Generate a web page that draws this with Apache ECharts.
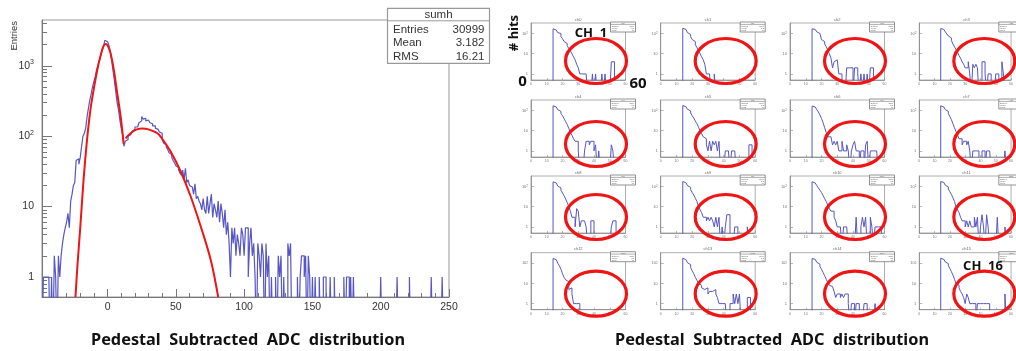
<!DOCTYPE html>
<html>
<head>
<meta charset="utf-8">
<script src="https://cdn.jsdelivr.net/npm/echarts@6/dist/echarts.min.js"></script>
<style>
  html, body { margin: 0; padding: 0; background: #fff; }
  #main { width: 1016px; height: 351px; }
</style>
</head>
<body>
<div id="main"></div>
<script>
// summed histogram, 1 ADC per bin, first bin starts at adcStart
const adcStart = -48;
const adcCounts = [
  0, 1, 1, 1, 1, 1, 0, 1, 0, 2,              // -48 .. -39
  1, 0, 2, 1, 2, 3, 4, 5, 6, 8,              // -38 .. -29
  5, 12, 15, 20, 22, 45, 48, 40, 50, 72,     // -28 .. -19
  100, 110, 130, 190, 250, 325, 400, 505, 600, 700,     // -18 .. -9
  880, 1020, 1200, 1400, 1650, 1850, 2300, 2200, 2100, 1950, // -8 .. 1
  1600, 1200, 850, 620, 430, 300, 240, 170, 130, 105,   // 2 .. 11
  72, 85, 90, 100, 105, 112, 118, 125, 135, 135,        // 12 .. 21
  140, 155, 165, 190, 175, 180, 165, 170, 160, 155,     // 22 .. 31
  150, 140, 140, 130, 125, 125, 115, 110, 90, 80,       // 32 .. 41
  75, 70, 65, 58, 55, 50, 45, 42, 38, 36,    // 42 .. 51
  33, 30, 28, 33, 24, 35, 22, 24, 20, 19,    // 52 .. 61
  18, 15, 21, 13, 14, 12, 11, 9, 13, 9,      // 62 .. 71
  8, 14, 8, 11, 15, 7, 11, 9, 7, 12,         // 72 .. 81
  6, 11, 8, 5, 9, 4, 6, 3, 1, 5,             // 82 .. 91
  3, 5, 2, 4, 3, 2, 5, 4, 2, 5,              // 92 .. 101
  5, 1, 3, 5, 2, 3, 1, 0, 3, 2,              // 102 .. 111
  1, 3, 2, 0, 3, 1, 2, 0, 1, 0,              // 112 .. 121
  0, 1, 0, 2, 1, 2, 0, 1, 0, 0,              // 122 .. 131
  3, 2, 3, 0, 0, 0, 0, 1, 0, 1,              // 132 .. 141
  2, 2, 1, 2, 0, 2, 1, 0, 1, 0,              // 142 .. 151
  1, 0, 0, 1, 0, 0, 1, 1, 0, 0,              // 152 .. 161
  0, 1, 0, 0, 1, 0, 0, 0, 0, 0,              // 162 .. 171
  0, 1, 0, 1, 1, 0, 1, 0, 1, 0,              // 172 .. 181
  0, 0, 0, 0, 0, 0, 0, 0, 0, 0,              // 182 .. 191
  0, 0, 0, 0, 0, 0, 0, 0, 1, 0,              // 192 .. 201
  0, 0, 0, 0, 0, 0, 0, 0, 0, 0,              // 202 .. 211
  1, 0, 0, 0, 0, 0, 0, 0, 0, 1,              // 212 .. 221
  0, 0, 0, 0, 0, 0, 0, 0, 0, 0,              // 222 .. 231
  0, 0, 0, 0, 0, 1, 0, 0, 0, 0,              // 232 .. 241
  0, 0, 0, 1, 0, 0, 0, 0                     // 242 .. 249
];

// red fit curves
const pedFitX = [-23.5, -22, -20, -17.5, -15, -12.5, -10, -7.5, -5, -3, -1.5, 0, 2.2, 4.6, 7.1, 9.6, 11.8];
const pedFitY = [0.52, 1.5, 5, 25, 90, 240, 480, 880, 1420, 1900, 2040, 1950, 1510, 870, 405, 190, 78];
const sigFitX = [13.2, 16.9, 21, 25.5, 30, 36.5, 40, 46.3, 53.7, 61, 68.4, 75.7, 81];
const sigFitY = [93, 110, 124, 129, 125, 110, 92, 60, 31, 13.7, 5.1, 1.7, 0.52];

const statsRows = [['Entries', '30999'], ['Mean', '3.182'], ['RMS', '16.21']];
const xMajorTicks = [0, 50, 100, 150, 200, 250];
const xMinorTicks = [-40, -30, -20, -10, 10, 20, 30, 40, 60, 70, 80, 90, 110, 120, 130, 140,
  160, 170, 180, 190, 210, 220, 230, 240];
const yMajorTicks = [1, 10, 100, 1000];
const yMinorTicks = [0.6, 0.7, 0.8, 0.9, 2, 3, 4, 5, 6, 7, 8, 9, 20, 30, 40, 50, 60, 70, 80, 90,
  200, 300, 400, 500, 600, 700, 800, 900, 2000, 3000, 4000];

// per channel histograms, bins 14 .. 59
const chStart = 14;
const chCounts = [
  [170,150,140,110,100,70,55,40,32,25,18, 14,10,7,5,3,2,1,1,1,1,1, 0,0,0,1,0,1,0,0,0,1,0, 1,0,0,0,4,4,0,0,0,0,0, 0,0],
  [180,160,130,110,90,70,50,40,28,20,14, 10,7,5,3,1,1,1,0,0,1,0, 0,0,0,0,0,0,0,0,0,0,0, 0,0,0,0,0,0,0,0,0,0,0, 0,0],
  [170,160,150,120,100,80,50,40,30,22,15, 10,6,2,4,5,4,1,1,0,0,0, 2,2,2,2,0,2,2,1,0,1,0, 1,0,1,0,2,2,1,0,0,0,0, 0,0],
  [175,160,140,120,95,75,60,45,30,22,16, 12,8,6,4,3,2,2,4,1,0,3, 2,3,2,0,0,4,4,1,0,1,1, 0,0,0,1,1,0,0,4,1,0,0, 0,0],
  [170,150,130,110,90,70,55,40,28,20,13, 8,6,4,3,3,1,0,0,0,1,3, 3,2,3,3,1,2,0,1,0,0,0, 0,0,0,0,2,1,0,0,0,0,0, 0,0],
  [175,155,140,115,95,75,55,42,30,22,15, 10,7,5,4,2,1,3,1,3,2,3, 1,3,0,0,0,1,1,1,0,1,1, 1,0,0,0,0,0,0,0,0,2,2, 0,0],
  [165,150,130,110,85,60,40,25,14,8,5, 5,5,2,3,2,3,1,1,3,1,1, 2,1,0,1,2,3,1,1,0,1,1, 0,2,3,0,1,1,1,1,1,0,0, 0,0],
  [170,150,135,110,90,70,50,35,22,14,9, 6,4,4,2,3,3,2,3,1,0,1, 1,1,1,0,0,1,1,0,1,1,1, 0,0,0,0,0,0,0,0,0,1,0, 0,0],
  [170,150,130,105,85,65,48,35,24,16,10, 6,3,3,1,8,6,1,2,2,2,1, 0,0,2,2,0,0,0,0,0,0,0, 0,0,0,0,1,2,2,0,0,0,0, 0,0],
  [175,155,135,110,90,70,50,38,26,18,10, 7,5,3,3,2,3,2,3,2,1,3, 1,3,0,1,0,1,4,4,0,0,0, 1,1,0,0,0,0,0,0,1,0,0, 0,0],
  [170,150,130,110,85,65,50,36,25,18,12, 8,6,6,3,2,1,1,1,0,1,1, 1,0,0,0,0,0,3,0,0,1,3, 1,3,0,0,3,1,0,1,1,1,1, 0,0],
  [175,160,140,115,95,75,55,40,28,18,10, 7,5,3,2,2,1,2,1,2,1,1, 3,1,3,0,1,4,1,0,4,1,0, 0,0,0,0,3,0,0,0,0,1,0, 0,0],
  [170,150,130,100,75,50,30,20,15,12,5, 6,3,1,1,1,1,0,0,0,0,0, 0,0,0,0,0,0,0,0,0,0,0, 0,0,0,0,0,0,0,0,0,0,0, 0,0],
  [175,150,130,105,85,60,42,30,20,14,10, 8,6,5,4,6,3,4,4,5,5,3, 2,1,1,1,1,1,0,0,1,1,3, 1,3,1,3,0,0,0,0,2,2,0, 0,0],
  [170,155,135,110,90,70,50,35,24,16,11, 8,7,6,4,2,3,3,2,3,2,3, 3,1,0,1,1,0,1,1,0,0,0, 1,1,0,0,0,0,0,1,0,0,0, 0,0],
  [175,155,140,115,95,75,55,38,26,16,10, 8,6,4,3,2,1,3,2,1,1,1, 1,0,1,1,1,1,1,1,1,1,0, 0,0,0,0,0,0,0,0,0,3,0, 0,0]
];
const chNames = ['ch0','ch1','ch2','ch3','ch4','ch5','ch6','ch7','ch8','ch9','ch10','ch11','ch12','ch13','ch14','ch15'];
const chYTicks = [1, 10, 100];
const chXTicks = [0, 10, 20, 30, 40, 50, 60];

// layout
const mainBox = { left: 42, top: 20, width: 407, height: 277 };
const colLeft = [531, 660.7, 790, 919.3];
const rowTop = [23, 100, 176, 252.7];
const miniW = 94.5, miniH = 57;
const ellipseDy = [38, 44, 41, 41];

const rootFont = 'Liberation Sans';
const boldFont = 'Noto Sans';
const blue = '#5656c6';
const red = '#f01414';

function stepData(start, counts) {
  // zero bins are drawn down to the bottom of the frame, like ROOT does
  const pts = counts.map((c, i) => [start + i, c > 0 ? c : 0.1]);
  pts.unshift([start, 0.1]);
  pts.push([start + counts.length, 0.1]);
  return pts;
}

function powLabel(v) {
  if (v >= 1000) return '10{s|3}';
  if (v >= 100) return '10{s|2}';
  if (v >= 10) return '10';
  return '1';
}

const grids = [Object.assign({ show: true, borderColor: '#999', borderWidth: 1 }, mainBox)];
const xAxes = [
  {
    gridIndex: 0, type: 'value', min: adcStart, max: 250, position: 'bottom',
    axisLine: { onZero: false, lineStyle: { color: '#777', width: 1 } },
    splitLine: { show: false },
    axisTick: { inside: true, length: 8, customValues: xMajorTicks, lineStyle: { color: '#777' } },
    axisLabel: { customValues: xMajorTicks, margin: 5, fontSize: 10.5, color: '#333', fontFamily: rootFont }
  },
  {
    gridIndex: 0, type: 'value', min: adcStart, max: 250, position: 'bottom',
    axisLine: { show: false, onZero: false },
    splitLine: { show: false },
    axisTick: { inside: true, length: 4, customValues: xMinorTicks, lineStyle: { color: '#777' } },
    axisLabel: { show: false }
  }
];
const yAxes = [
  {
    gridIndex: 0, type: 'log', min: 0.52, max: 4470, position: 'left',
    axisLine: { onZero: false, lineStyle: { color: '#777', width: 1 } },
    splitLine: { show: false },
    axisTick: { inside: true, length: 10, customValues: yMajorTicks, lineStyle: { color: '#777' } },
    axisLabel: {
      customValues: yMajorTicks, margin: 8, fontSize: 10.5, color: '#333', fontFamily: rootFont,
      formatter: powLabel,
      rich: { s: { fontSize: 7, color: '#333', fontFamily: rootFont, verticalAlign: 'top', padding: [0, 0, 7, 0] } }
    }
  },
  {
    gridIndex: 0, type: 'log', min: 0.52, max: 4470, position: 'left',
    axisLine: { show: false, onZero: false },
    splitLine: { show: false },
    axisTick: { inside: true, length: 5, customValues: yMinorTicks, lineStyle: { color: '#777' } },
    axisLabel: { show: false }
  }
];

const series = [
  {
    type: 'line', xAxisIndex: 0, yAxisIndex: 0, step: 'end', symbol: 'none',
    data: stepData(adcStart, adcCounts),
    lineStyle: { color: blue, width: 1.2 }, z: 2
  },
  {
    type: 'line', xAxisIndex: 0, yAxisIndex: 0, smooth: 0.35, symbol: 'none',
    data: pedFitX.map((x, i) => [x, pedFitY[i]]),
    lineStyle: { color: red, width: 2 }, z: 3
  },
  {
    type: 'line', xAxisIndex: 0, yAxisIndex: 0, smooth: 0.35, symbol: 'none',
    data: sigFitX.map((x, i) => [x, sigFitY[i]]),
    lineStyle: { color: red, width: 2 }, z: 3
  }
];

const graphics = [];

// the small per channel pads
chCounts.forEach((counts, i) => {
  const row = Math.floor(i / 4), col = i % 4;
  const left = colLeft[col], top = rowTop[row];
  const g = grids.length;
  grids.push({ left: left, top: top, width: miniW, height: miniH, show: true, borderColor: '#999', borderWidth: 0.8 });
  xAxes.push({
    gridIndex: g, type: 'value', min: 0, max: 60, position: 'bottom',
    axisLine: { onZero: false, lineStyle: { color: '#888', width: 0.8 } },
    splitLine: { show: false },
    axisTick: { inside: true, length: 2, customValues: chXTicks, lineStyle: { color: '#888', width: 0.6 } },
    axisLabel: { customValues: chXTicks, margin: 2, fontSize: 3.5, color: '#777', fontFamily: rootFont }
  });
  yAxes.push({
    gridIndex: g, type: 'log', min: 0.5, max: 330, position: 'left',
    axisLine: { onZero: false, lineStyle: { color: '#888', width: 0.8 } },
    splitLine: { show: false },
    axisTick: { inside: true, length: 3, customValues: chYTicks, lineStyle: { color: '#888', width: 0.6 } },
    axisLabel: {
      customValues: chYTicks, margin: 3, fontSize: 4, color: '#777', fontFamily: rootFont,
      formatter: powLabel, rich: { s: { fontSize: 3, color: '#777', verticalAlign: 'top' } }
    }
  });
  series.push({
    type: 'line', xAxisIndex: g + 1, yAxisIndex: g + 1, step: 'end', symbol: 'none',
    data: stepData(chStart, counts),
    lineStyle: { color: blue, width: 1 }, z: 2
  });

  // title and stats box of the pad
  graphics.push({
    type: 'text', x: left + miniW / 2, y: top - 3.5, z: 10,
    style: { text: chNames[i], fontSize: 4, fill: '#666', fontFamily: rootFont, align: 'center', verticalAlign: 'middle' }
  });
  const bx = left + miniW - 15, by = top - 1;
  graphics.push({
    type: 'group', x: bx, y: by, z: 10,
    children: [
      { type: 'rect', shape: { x: 0, y: 0, width: 25, height: 10 }, style: { fill: '#fff', stroke: '#777', lineWidth: 0.8 } },
      { type: 'line', shape: { x1: 0, y1: 2.4, x2: 25, y2: 2.4 }, style: { stroke: '#777', lineWidth: 0.6 } },
      { type: 'text', x: 12.5, y: 1.3, style: { text: chNames[i], fontSize: 2.2, fill: '#666', align: 'center', verticalAlign: 'middle' } },
      { type: 'text', x: 1.2, y: 4.2, style: { text: 'Entries', fontSize: 2.2, fill: '#666', verticalAlign: 'middle' } },
      { type: 'text', x: 1.2, y: 6.3, style: { text: 'Mean', fontSize: 2.2, fill: '#666', verticalAlign: 'middle' } },
      { type: 'text', x: 1.2, y: 8.4, style: { text: 'RMS', fontSize: 2.2, fill: '#666', verticalAlign: 'middle' } },
      { type: 'text', x: 23.8, y: 4.2, style: { text: '2000', fontSize: 2.2, fill: '#666', align: 'right', verticalAlign: 'middle' } },
      { type: 'text', x: 23.8, y: 6.3, style: { text: '3.2', fontSize: 2.2, fill: '#666', align: 'right', verticalAlign: 'middle' } },
      { type: 'text', x: 23.8, y: 8.4, style: { text: '16', fontSize: 2.2, fill: '#666', align: 'right', verticalAlign: 'middle' } }
    ]
  });

  // red ellipse around the tail
  graphics.push({
    type: 'ellipse', z: 20,
    shape: { cx: left + 65, cy: top + ellipseDy[row], rx: 30.5, ry: 22.5 },
    style: { fill: 'none', stroke: red, lineWidth: 3.2 }
  });
});

// stats box of the summed histogram
const statsChildren = [
  { type: 'rect', shape: { x: 0, y: 0, width: 102, height: 55 }, style: { fill: '#fff', stroke: '#999', lineWidth: 1.2 } },
  { type: 'line', shape: { x1: 0, y1: 12.5, x2: 102, y2: 12.5 }, style: { stroke: '#999', lineWidth: 1 } },
  { type: 'text', x: 51, y: 7, style: { text: 'sumh', fontSize: 11.5, fill: '#333', fontFamily: rootFont, align: 'center', verticalAlign: 'middle' } }
];
statsRows.forEach((r, k) => {
  statsChildren.push({ type: 'text', x: 5.5, y: 21.5 + k * 13.3,
    style: { text: r[0], fontSize: 11.5, fill: '#333', fontFamily: rootFont, verticalAlign: 'middle' } });
  statsChildren.push({ type: 'text', x: 97, y: 21.5 + k * 13.3,
    style: { text: r[1], fontSize: 11.5, fill: '#333', fontFamily: rootFont, align: 'right', verticalAlign: 'middle' } });
});
graphics.push({ type: 'group', x: 387.5, y: 8.3, z: 10, children: statsChildren });

// axis title and slide annotations
graphics.push({
  type: 'text', x: 14, y: 21, rotation: Math.PI / 2, z: 10,
  style: { text: 'Entries', fontSize: 9.5, fill: '#333', fontFamily: rootFont, align: 'right', verticalAlign: 'middle' }
});
const boldText = (text, x, y, size, extra) => Object.assign({
  type: 'text', x: x, y: y, z: 30,
  style: { text: text, fontSize: size, fontWeight: 'bold', fill: '#111', fontFamily: boldFont, align: 'center', verticalAlign: 'middle' }
}, extra || {});
graphics.push(boldText('# hits', 514, 33, 13, { rotation: Math.PI / 2 }));
graphics.push(boldText('CH  1', 591, 33, 13));
graphics.push(boldText('0', 522.5, 82, 15));
graphics.push(boldText('60', 638, 84, 15));
graphics.push(boldText('CH  16', 983, 266, 13));
graphics.push(boldText('Pedestal  Subtracted  ADC  distribution', 248, 340, 16.3));
graphics.push(boldText('Pedestal  Subtracted  ADC  distribution', 772, 340, 16.3));

const chart = echarts.init(document.getElementById('main'));
chart.setOption({
  animation: false,
  backgroundColor: '#fff',
  grid: grids,
  xAxis: xAxes,
  yAxis: yAxes,
  series: series,
  graphic: graphics
});
</script>
</body>
</html>
